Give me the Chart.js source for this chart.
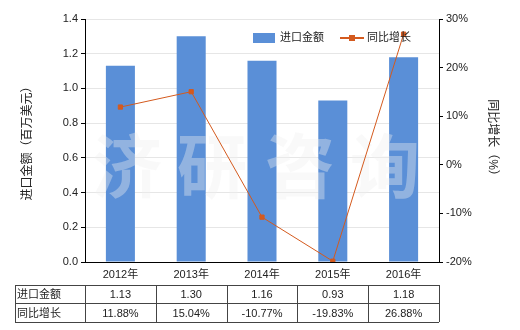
<!DOCTYPE html>
<html>
<head>
<meta charset="utf-8">
<script src="https://cdn.jsdelivr.net/npm/chart.js@4/dist/chart.umd.min.js"></script>
<style>
  html, body { margin: 0; padding: 0; background: #fff; }
  #wrap { width: 520px; height: 330px; position: relative; }
</style>
</head>
<body>
<div id="wrap"><canvas id="importChart" width="520" height="330"></canvas></div>
<script>
// data
const years = ["2012年", "2013年", "2014年", "2015年", "2016年"];
const importValue = [1.13, 1.30, 1.16, 0.93, 1.18];
const yoyGrowth = [11.88, 15.04, -10.77, -19.83, 26.88];
const rowLabels = ["进口金额", "同比增长"];
const watermark = ["济", "研", "咨", "询"];

const barColor = "#5a8fd7";
const lineColor = "#d45a1e";
const fontFamily = "'Liberation Sans', 'Noto Sans CJK SC', sans-serif";

Chart.defaults.font.family = fontFamily;
Chart.defaults.font.size = 11;
Chart.defaults.color = "#222";

// draw the watermark over the bars, under the line
const watermarkPlugin = {
  id: "watermark",
  afterDatasetDraw(chart, args) {
    if (args.index !== 0) return;
    const ctx = chart.ctx;
    const xs = [127, 212, 300, 385];
    ctx.save();
    ctx.font = "bold 70px 'Noto Sans CJK SC'";
    ctx.fillStyle = "rgba(238, 238, 238, 0.38)";
    ctx.textAlign = "center";
    ctx.textBaseline = "middle";
    watermark.forEach((ch, i) => ctx.fillText(ch, xs[i], 166));
    ctx.restore();
  },
};

// legend inside the plot area + data table below the x axis
const extrasPlugin = {
  id: "extras",
  afterDraw(chart) {
    const ctx = chart.ctx;
    const x = chart.scales.x;
    ctx.save();

    // legend
    ctx.fillStyle = barColor;
    ctx.fillRect(253, 33, 22, 10);
    ctx.fillStyle = "#222";
    ctx.font = "11px " + fontFamily;
    ctx.textBaseline = "middle";
    ctx.textAlign = "left";
    ctx.fillText("进口金额", 280, 38);
    ctx.strokeStyle = lineColor;
    ctx.lineWidth = 2;
    ctx.beginPath();
    ctx.moveTo(340, 38);
    ctx.lineTo(364, 38);
    ctx.stroke();
    ctx.fillStyle = lineColor;
    ctx.fillRect(349, 35, 6, 6);
    ctx.fillStyle = "#222";
    ctx.fillText("同比增长", 367, 38);

    // table
    const left = 15, right = x.right;
    const rows = [285, 303, 322];
    ctx.strokeStyle = "#444";
    ctx.lineWidth = 1;
    ctx.beginPath();
    rows.forEach(r => { ctx.moveTo(left, r + 0.5); ctx.lineTo(right, r + 0.5); });
    const step = (x.right - x.left) / years.length;
    const cols = [left, x.left];
    for (let i = 1; i <= years.length; i++) cols.push(Math.round(x.left + step * i));
    cols.forEach(c => { ctx.moveTo(c + 0.5, rows[0]); ctx.lineTo(c + 0.5, rows[2]); });
    ctx.stroke();

    ctx.fillStyle = "#222";
    ctx.textAlign = "left";
    ctx.fillText(rowLabels[0], 17, (rows[0] + rows[1]) / 2 + 1);
    ctx.fillText(rowLabels[1], 17, (rows[1] + rows[2]) / 2 + 1);
    ctx.textAlign = "center";
    years.forEach((_, i) => {
      const cx = x.getPixelForValue(i);
      ctx.fillText(importValue[i].toFixed(2), cx, (rows[0] + rows[1]) / 2 + 1);
      ctx.fillText(yoyGrowth[i].toFixed(2) + "%", cx, (rows[1] + rows[2]) / 2 + 1);
    });
    ctx.restore();
  },
};

const ctx = document.getElementById("importChart").getContext("2d");
const importChart = new Chart(ctx, {
  type: "bar",
  data: {
    labels: years,
    datasets: [
      {
        type: "bar",
        label: "进口金额",
        data: importValue,
        backgroundColor: barColor,
        yAxisID: "y",
        categoryPercentage: 1,
        barPercentage: 0.41,
        order: 1,
      },
      {
        type: "line",
        label: "同比增长",
        data: yoyGrowth,
        borderColor: lineColor,
        backgroundColor: lineColor,
        borderWidth: 1,
        pointStyle: "rect",
        pointRadius: 3,
        tension: 0,
        yAxisID: "y1",
        order: 0,
      },
    ],
  },
  options: {
    responsive: false,
    animation: false,
    layout: { padding: { top: 19, left: 0, right: 0, bottom: 0 } },
    plugins: {
      legend: { display: false },
      tooltip: { enabled: false },
    },
    scales: {
      x: {
        offset: true,
        grid: { display: false, drawTicks: true, tickLength: 4, tickColor: "#000" },
        border: { color: "#000", width: 1 },
        ticks: { padding: 2, color: "#222" },
        afterFit(scale) { scale.height = 68; },
      },
      y: {
        position: "left",
        min: 0,
        max: 1.4,
        ticks: {
          stepSize: 0.2,
          padding: 3,
          color: "#222",
          callback: v => v.toFixed(1),
        },
        grid: { color: "#e6e6e6", tickColor: "#000", tickLength: 4 },
        border: { color: "#000", width: 1 },
        title: { display: true, text: "进口金额（百万美元）", color: "#222", font: { size: 12 }, padding: { top: 20, bottom: 0 } },
        afterFit(scale) { scale.width = 85; },
      },
      y1: {
        position: "right",
        min: -20,
        max: 30,
        ticks: {
          stepSize: 10,
          padding: 3,
          color: "#222",
          callback: v => v + "%",
        },
        grid: { drawOnChartArea: false, tickColor: "#000", tickLength: 4 },
        border: { color: "#000", width: 1 },
        title: { display: true, text: "同比增长（%）", color: "#222", font: { size: 12 }, padding: { top: 20, bottom: 0 } },
        afterFit(scale) { scale.width = 81; },
      },
    },
  },
  plugins: [watermarkPlugin, extrasPlugin],
});
</script>
</body>
</html>
